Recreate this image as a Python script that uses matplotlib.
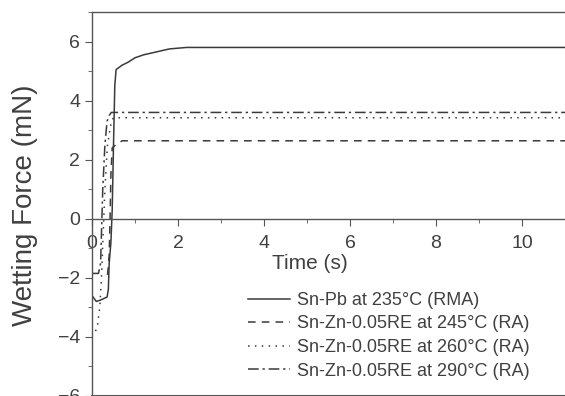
import numpy as np
import matplotlib.pyplot as plt
from matplotlib.ticker import MultipleLocator

plt.rcParams['font.family'] = ['Liberation Sans', 'DejaVu Sans']

# wetting balance curves
t_snpb = [0, 0.1, 0.2, 0.35, 0.38, 0.40, 0.44, 0.47, 0.50, 0.53, 0.56, 0.70, 0.84, 1.0, 1.2, 1.5, 1.8, 2.2, 11]
f_snpb = [-2.6, -2.8, -2.75, -2.65, -2.4, -1.5, -0.8, 0.3, 2.5, 4.5, 5.05, 5.2, 5.3, 5.45, 5.55, 5.65, 5.75, 5.8, 5.8]

t_245 = [0.36, 0.38, 0.40, 0.42, 0.44, 0.47, 0.55, 0.70, 11]
f_245 = [-1.9, -1.6, -1.2, 0.0, 1.5, 2.4, 2.5, 2.64, 2.64]

t_260 = [0.08, 0.12, 0.18, 0.22, 0.26, 0.30, 0.36, 0.45, 0.50, 11]
f_260 = [-3.8, -3.7, -3.0, -2.0, -0.5, 1.0, 2.5, 3.3, 3.42, 3.42]

t_290 = [0, 0.15, 0.20, 0.22, 0.25, 0.30, 0.35, 0.40, 0.45, 11]
f_290 = [-1.85, -1.85, -1.5, -0.5, 1.0, 2.5, 3.3, 3.5, 3.6, 3.6]

labels = ['Sn-Pb at 235°C (RMA)',
          'Sn-Zn-0.05RE at 245°C (RA)',
          'Sn-Zn-0.05RE at 260°C (RA)',
          'Sn-Zn-0.05RE at 290°C (RA)']

lc = '#3a3a3a'
tc = '#404040'
fig = plt.figure(figsize=(5.65, 3.96), dpi=100)
ax = fig.add_axes([92/565, 0.0, 473/565, 384/396])

ax.plot(t_snpb, f_snpb, color=lc, lw=1.1, ls='-', label=labels[0])
ax.plot(t_245, f_245, color=lc, lw=1.1, ls=(0, (5, 4)), label=labels[1])
ax.plot(t_260, f_260, color=lc, lw=1.1, ls=(0, (1, 3.5)), label=labels[2])
ax.plot(t_290, f_290, color=lc, lw=1.1, ls=(0, (7, 2.5, 1.5, 2.5)), label=labels[3])

ax.set_xlim(0, 11)
ax.set_ylim(-6, 7)

sc = '#555555'
ax.spines['right'].set_visible(False)
ax.spines['bottom'].set_position(('data', 0))
for s in ['left', 'bottom', 'top']:
    ax.spines[s].set_color(sc)
    ax.spines[s].set_linewidth(1.0)
# closing frame line along the bottom edge
ax.plot([0, 1], [0, 0], transform=ax.transAxes, color=sc, lw=1.5, clip_on=False)

ax.xaxis.set_major_locator(MultipleLocator(2))
ax.xaxis.set_minor_locator(MultipleLocator(1))
ax.yaxis.set_major_locator(MultipleLocator(2))
ax.yaxis.set_minor_locator(MultipleLocator(1))
ax.tick_params(which='both', direction='out', colors=sc, labelcolor=tc, top=False, right=False)
ax.tick_params(which='major', length=5, labelsize=14)
ax.tick_params(which='minor', length=3)
ax.tick_params(axis='x', pad=7)

ax.set_xlabel('Time (s)', fontsize=15, color=tc)
ax.xaxis.set_label_coords((310 - 92) / 473, (396 - 254) / 384)
ax.set_ylabel('Wetting Force (mN)', fontsize=20, color=tc)
ax.yaxis.set_label_coords((38 - 92) / 473, (396 - 205) / 384)

ax.legend(loc='upper left', bbox_to_anchor=(248/565, 1 - 292/396), bbox_transform=fig.transFigure,
          frameon=False, fontsize=13, handlelength=2.3, handletextpad=0.4,
          labelspacing=0.36, borderpad=0, borderaxespad=0, labelcolor=tc)

fig.savefig('out.png', dpi=100)
